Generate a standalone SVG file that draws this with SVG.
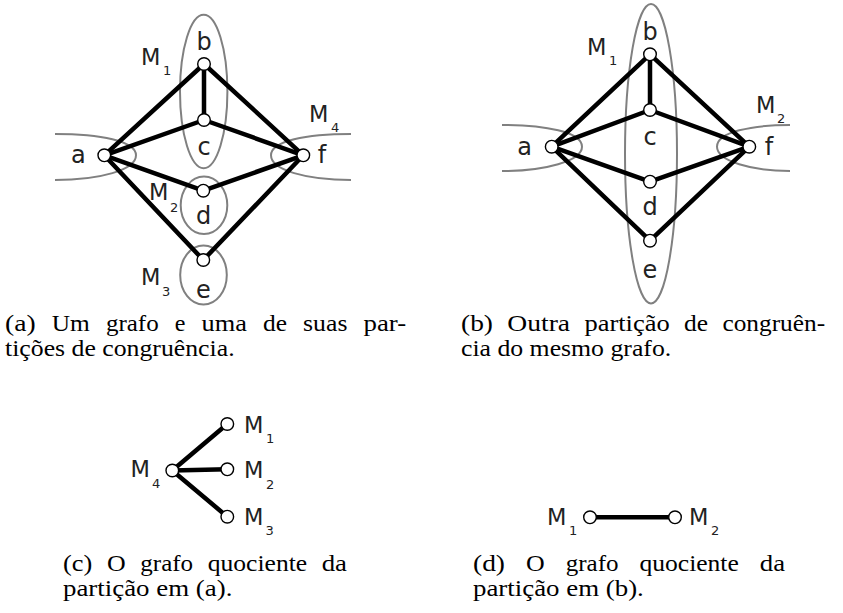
<svg xmlns="http://www.w3.org/2000/svg" width="843" height="613" viewBox="0 0 843 613">
<style>
.e{stroke:#000;stroke-width:4.5;fill:none;stroke-linecap:round}
.n{fill:#fff;stroke:#000;stroke-width:1.4}
.g{fill:none;stroke:#808080;stroke-width:2}
.l{font-family:"DejaVu Sans",sans-serif;font-size:24px;fill:#222;text-anchor:middle}
.m{font-family:"DejaVu Sans",sans-serif;font-size:22.5px;fill:#222}
.s{font-family:"DejaVu Sans",sans-serif;font-size:13px;fill:#222}
.c{font-family:"Liberation Serif","Times New Roman",serif;font-size:22.5px;fill:#000}
</style>
<rect width="843" height="613" fill="#fff"/>

<!-- Panel (a) -->
<g id="a-groups">
<ellipse class="g" cx="203.7" cy="91.5" rx="23.7" ry="76.7"/>
<ellipse class="g" cx="204" cy="205.3" rx="23.3" ry="28.7"/>
<ellipse class="g" cx="203.5" cy="275" rx="23.3" ry="29.5"/>
<path class="g" d="M55,134 C100,134 136,141 136,155.3 C136,170 100,180 55,180"/>
<path class="g" d="M351,134 C306,134 271,141 271,155.3 C271,170 306,180 351,180"/>
</g>
<g id="a-edges">
<line class="e" x1="104.3" y1="155.3" x2="204" y2="64"/>
<line class="e" x1="104.3" y1="155.3" x2="204" y2="120"/>
<line class="e" x1="104.3" y1="155.3" x2="203.3" y2="190.7"/>
<line class="e" x1="104.3" y1="155.3" x2="203.3" y2="260"/>
<line class="e" x1="303.3" y1="155.3" x2="204" y2="64"/>
<line class="e" x1="303.3" y1="155.3" x2="204" y2="120"/>
<line class="e" x1="303.3" y1="155.3" x2="203.3" y2="190.7"/>
<line class="e" x1="303.3" y1="155.3" x2="203.3" y2="260"/>
<line class="e" x1="204" y1="64" x2="204" y2="120"/>
</g>
<g id="a-node-a"><circle class="n" cx="104.3" cy="155.3" r="6.3"/><text class="l" x="78.3" y="163">a</text></g>
<g id="a-node-b"><circle class="n" cx="204" cy="64" r="6.3"/><text class="l" x="204" y="50">b</text></g>
<g id="a-node-c"><circle class="n" cx="204" cy="120" r="6.3"/><text class="l" x="204" y="155">c</text></g>
<g id="a-node-d"><circle class="n" cx="203.3" cy="190.7" r="6.3"/><text class="l" x="203.5" y="224">d</text></g>
<g id="a-node-e"><circle class="n" cx="203.3" cy="260" r="6.3"/><text class="l" x="203.5" y="298">e</text></g>
<g id="a-node-f"><circle class="n" cx="303.3" cy="155.3" r="6.3"/><text class="l" x="322" y="163">f</text></g>
<g id="a-labels">
<text class="m" x="141" y="65">M</text><text class="s" x="163" y="75">1</text>
<text class="m" x="149" y="200">M</text><text class="s" x="170" y="212">2</text>
<text class="m" x="141" y="285">M</text><text class="s" x="162" y="296">3</text>
<text class="m" x="309" y="122">M</text><text class="s" x="331" y="132">4</text>
</g>

<!-- Panel (b) -->
<g id="b-groups">
<ellipse class="g" cx="651" cy="153.7" rx="26" ry="149.7"/>
<path class="g" d="M502,125 C545,125 582,132 582,146.7 C582,161 545,171 502,171"/>
<path class="g" d="M790,125 C752,125 717,132 717,146.7 C717,161 752,171 790,171"/>
</g>
<g id="b-edges">
<line class="e" x1="551.7" y1="146.7" x2="650" y2="54.3"/>
<line class="e" x1="551.7" y1="146.7" x2="650" y2="110"/>
<line class="e" x1="551.7" y1="146.7" x2="650" y2="181.7"/>
<line class="e" x1="551.7" y1="146.7" x2="650" y2="240.7"/>
<line class="e" x1="749.3" y1="146.7" x2="650" y2="54.3"/>
<line class="e" x1="749.3" y1="146.7" x2="650" y2="110"/>
<line class="e" x1="749.3" y1="146.7" x2="650" y2="181.7"/>
<line class="e" x1="749.3" y1="146.7" x2="650" y2="240.7"/>
<line class="e" x1="650" y1="54.3" x2="650" y2="110"/>
</g>
<g id="b-node-a"><circle class="n" cx="551.7" cy="146.7" r="6.3"/><text class="l" x="524.7" y="155">a</text></g>
<g id="b-node-b"><circle class="n" cx="650" cy="54.3" r="6.3"/><text class="l" x="650" y="39.5">b</text></g>
<g id="b-node-c"><circle class="n" cx="650" cy="110" r="6.3"/><text class="l" x="650" y="145">c</text></g>
<g id="b-node-d"><circle class="n" cx="650" cy="181.7" r="6.3"/><text class="l" x="650" y="215">d</text></g>
<g id="b-node-e"><circle class="n" cx="650" cy="240.7" r="6.3"/><text class="l" x="650" y="278">e</text></g>
<g id="b-node-f"><circle class="n" cx="749.3" cy="146.7" r="6.3"/><text class="l" x="769" y="155">f</text></g>
<g id="b-labels">
<text class="m" x="587" y="55">M</text><text class="s" x="609" y="65">1</text>
<text class="m" x="756" y="113">M</text><text class="s" x="777" y="123">2</text>
</g>

<!-- Panel (c) -->
<g id="c-edges">
<line class="e" x1="172.3" y1="470.5" x2="227.3" y2="424"/>
<line class="e" x1="172.3" y1="470.5" x2="227.3" y2="469.3"/>
<line class="e" x1="172.3" y1="470.5" x2="227.3" y2="516.7"/>
</g>
<g id="c-node-M4"><circle class="n" cx="172.3" cy="470.5" r="6.3"/><text class="m" x="130.5" y="476.5">M</text><text class="s" x="152" y="488">4</text></g>
<g id="c-node-M1"><circle class="n" cx="227.3" cy="424" r="6.3"/><text class="m" x="244" y="433">M</text><text class="s" x="266" y="443">1</text></g>
<g id="c-node-M2"><circle class="n" cx="227.3" cy="469.3" r="6.3"/><text class="m" x="244" y="478">M</text><text class="s" x="266" y="489">2</text></g>
<g id="c-node-M3"><circle class="n" cx="227.3" cy="516.7" r="6.3"/><text class="m" x="244" y="525">M</text><text class="s" x="265.5" y="535">3</text></g>

<!-- Panel (d) -->
<g id="d-edges">
<line class="e" x1="590" y1="517.3" x2="675" y2="517.3"/>
</g>
<g id="d-node-M1"><circle class="n" cx="590" cy="517.3" r="6.3"/><text class="m" x="547" y="525">M</text><text class="s" x="569" y="535">1</text></g>
<g id="d-node-M2"><circle class="n" cx="675" cy="517.3" r="6.3"/><text class="m" x="689" y="525">M</text><text class="s" x="711" y="535">2</text></g>

<!-- Captions -->
<g id="caption-a">
<text class="c" x="5" y="331" textLength="30.7" lengthAdjust="spacingAndGlyphs">(a)</text>
<text class="c" x="51.8" y="331" textLength="38" lengthAdjust="spacingAndGlyphs">Um</text>
<text class="c" x="105.9" y="331" textLength="52.8" lengthAdjust="spacingAndGlyphs">grafo</text>
<text class="c" x="174.8" y="331" textLength="10.7" lengthAdjust="spacingAndGlyphs">e</text>
<text class="c" x="201.6" y="331" textLength="45.3" lengthAdjust="spacingAndGlyphs">uma</text>
<text class="c" x="263" y="331" textLength="24" lengthAdjust="spacingAndGlyphs">de</text>
<text class="c" x="303.1" y="331" textLength="44.3" lengthAdjust="spacingAndGlyphs">suas</text>
<text class="c" x="363.5" y="331" textLength="42.7" lengthAdjust="spacingAndGlyphs">par-</text>
<text class="c" x="5" y="356" textLength="229.6" lengthAdjust="spacingAndGlyphs">tições de congruência.</text>
</g>
<g id="caption-b">
<text class="c" x="461" y="331" textLength="32" lengthAdjust="spacingAndGlyphs">(b)</text>
<text class="c" x="507.3" y="331" textLength="62.8" lengthAdjust="spacingAndGlyphs">Outra</text>
<text class="c" x="584.4" y="331" textLength="85.4" lengthAdjust="spacingAndGlyphs">partição</text>
<text class="c" x="684.1" y="331" textLength="24" lengthAdjust="spacingAndGlyphs">de</text>
<text class="c" x="722.4" y="331" textLength="102.7" lengthAdjust="spacingAndGlyphs">congruên-</text>
<text class="c" x="461" y="356" textLength="210.2" lengthAdjust="spacingAndGlyphs">cia do mesmo grafo.</text>
</g>
<g id="caption-c">
<text class="c" x="63" y="571" textLength="29.3" lengthAdjust="spacingAndGlyphs">(c)</text>
<text class="c" x="107" y="571" textLength="18.7" lengthAdjust="spacingAndGlyphs">O</text>
<text class="c" x="140.3" y="571" textLength="52.8" lengthAdjust="spacingAndGlyphs">grafo</text>
<text class="c" x="207.8" y="571" textLength="99.3" lengthAdjust="spacingAndGlyphs">quociente</text>
<text class="c" x="321.7" y="571" textLength="25.3" lengthAdjust="spacingAndGlyphs">da</text>
<text class="c" x="63" y="596" textLength="169.4" lengthAdjust="spacingAndGlyphs">partição em (a).</text>
</g>
<g id="caption-d">
<text class="c" x="473" y="571" textLength="32" lengthAdjust="spacingAndGlyphs">(d)</text>
<text class="c" x="526" y="571" textLength="18.7" lengthAdjust="spacingAndGlyphs">O</text>
<text class="c" x="565.7" y="571" textLength="52.8" lengthAdjust="spacingAndGlyphs">grafo</text>
<text class="c" x="639.5" y="571" textLength="99.3" lengthAdjust="spacingAndGlyphs">quociente</text>
<text class="c" x="759.8" y="571" textLength="25.3" lengthAdjust="spacingAndGlyphs">da</text>
<text class="c" x="473" y="596" textLength="170.8" lengthAdjust="spacingAndGlyphs">partição em (b).</text>
</g>
</svg>
